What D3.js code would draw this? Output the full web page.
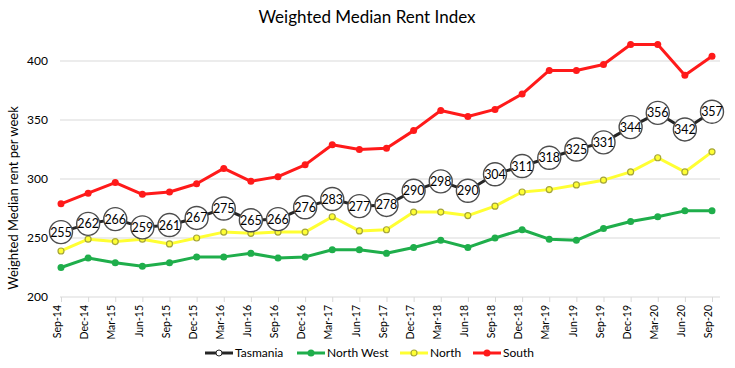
<!DOCTYPE html>
<html>
<head>
<meta charset="utf-8">
<script src="https://cdn.jsdelivr.net/npm/d3@7"></script>
<style>
  body { margin: 0; background: #fff; }
  #chart { width: 735px; height: 368px; }
  text { font-family: Lato, "Open Sans", sans-serif; fill: #000; }
</style>
</head>
<body>
<div id="chart"></div>
<script>
// quarters along the x axis
var quarters = ['Sep-14', 'Dec-14', 'Mar-15', 'Jun-15', 'Sep-15', 'Dec-15', 'Mar-16', 'Jun-16', 'Sep-16',
    'Dec-16', 'Mar-17', 'Jun-17', 'Sep-17', 'Dec-17', 'Mar-18', 'Jun-18', 'Sep-18', 'Dec-18', 'Mar-19',
    'Jun-19', 'Sep-19', 'Dec-19', 'Mar-20', 'Jun-20', 'Sep-20'];

var tasmania = [255, 262, 266, 259, 261, 267, 275, 265, 266, 276, 283, 277, 278, 290, 298, 290, 304, 311, 318, 325, 331, 344, 356, 342, 357];
var northWest = [225, 233, 229, 226, 229, 234, 234, 237, 233, 234, 240, 240, 237, 242, 248, 242, 250, 257, 249, 248, 258, 264, 268, 273, 273];
var north = [239, 249, 247, 249, 245, 250, 255, 254, 255, 255, 268, 256, 257, 272, 272, 269, 277, 289, 291, 295, 299, 306, 318, 306, 323];
var south = [279, 288, 297, 287, 289, 296, 309, 298, 302, 312, 329, 325, 326, 341, 358, 353, 359, 372, 392, 392, 397, 414, 414, 388, 404];

var yTicks = [200, 250, 300, 350, 400];

var series = [
    { name: 'Tasmania', values: tasmania, color: '#262626' },
    { name: 'North West', values: northWest, color: '#1fae4b' },
    { name: 'North', values: north, color: '#ffff33' },
    { name: 'South', values: south, color: '#ff1a1a' }
];

var width = 735, height = 368;
var svg = d3.select('#chart').append('svg')
    .attr('width', width)
    .attr('height', height);

var x = d3.scalePoint()
    .domain(quarters)
    .range([61, 712]);

var y = d3.scaleLinear()
    .domain([200, 400])
    .range([297, 61]);

// title
svg.append('text')
    .attr('x', 367)
    .attr('y', 23)
    .attr('text-anchor', 'middle')
    .style('font-size', '17px')
    .text('Weighted Median Rent Index');

// y axis title
svg.append('text')
    .attr('transform', 'translate(18,198) rotate(-90)')
    .attr('text-anchor', 'middle')
    .style('font-size', '13px')
    .text('Weighted Median rent per week');

// gridlines
svg.append('g').selectAll('line')
    .data(yTicks.slice(1))
    .enter().append('line')
    .attr('x1', 60).attr('x2', 720)
    .attr('y1', function (d) { return y(d); })
    .attr('y2', function (d) { return y(d); })
    .style('stroke', '#d9d9d9')
    .style('stroke-width', 1);

// y axis labels
var yAxis = d3.axisLeft(y).tickValues(yTicks).tickSize(0).tickPadding(12);
var gy = svg.append('g').attr('transform', 'translate(60,0)').call(yAxis);
gy.select('.domain').remove();
gy.selectAll('text').style('font-size', '12px').style('font-family', 'Lato, sans-serif');

// x axis
var xAxis = d3.axisBottom(x).tickSize(5).tickPadding(4);
var gx = svg.append('g').attr('transform', 'translate(0,297)').call(xAxis);
gx.select('.domain').attr('d', 'M60,0H720').style('stroke', '#d9d9d9');
gx.selectAll('.tick line').style('stroke', '#d9d9d9');
gx.selectAll('text')
    .style('font-size', '10.5px')
    .style('font-family', 'Lato, sans-serif')
    .attr('text-anchor', 'end')
    .attr('transform', 'rotate(-90)')
    .attr('x', -8)
    .attr('y', -4)
    .attr('dy', '0.35em');

var line = d3.line()
    .x(function (d, i) { return x(quarters[i]); })
    .y(function (d) { return y(d); });

// draw lines
series.forEach(function (s) {
    svg.append('path')
        .attr('d', line(s.values))
        .style('fill', 'none')
        .style('stroke', s.color)
        .style('stroke-width', 3)
        .style('stroke-linejoin', 'round');
});

// markers
svg.append('g').selectAll('circle')
    .data(northWest)
    .enter().append('circle')
    .attr('cx', function (d, i) { return x(quarters[i]); })
    .attr('cy', function (d) { return y(d); })
    .attr('r', 3.5)
    .style('fill', '#1fae4b');

svg.append('g').selectAll('circle')
    .data(north)
    .enter().append('circle')
    .attr('cx', function (d, i) { return x(quarters[i]); })
    .attr('cy', function (d) { return y(d); })
    .attr('r', 3)
    .style('fill', '#ffff33')
    .style('stroke', '#a5a53a')
    .style('stroke-width', 1.2);

svg.append('g').selectAll('circle')
    .data(south)
    .enter().append('circle')
    .attr('cx', function (d, i) { return x(quarters[i]); })
    .attr('cy', function (d) { return y(d); })
    .attr('r', 3.5)
    .style('fill', '#ff1a1a');

// Tasmania labels in circles
var lab = svg.append('g').selectAll('g')
    .data(tasmania)
    .enter().append('g')
    .attr('transform', function (d, i) { return 'translate(' + x(quarters[i]) + ',' + y(d) + ')'; });
lab.append('circle')
    .attr('r', 11.5)
    .style('fill', '#fff')
    .style('stroke', '#4d4d4d')
    .style('stroke-width', 1.4);
lab.append('text')
    .attr('text-anchor', 'middle')
    .attr('dy', '0.36em')
    .style('font-size', '12.5px')
    .text(function (d) { return d; });

// legend
var legendItems = [
    { s: series[0], x: 205, marker: 'open' },
    { s: series[1], x: 297, marker: 'fill' },
    { s: series[2], x: 400, marker: 'yellow' },
    { s: series[3], x: 473, marker: 'fill' }
];
var lg = svg.append('g').attr('transform', 'translate(0,353)');
legendItems.forEach(function (it) {
    var g = lg.append('g').attr('transform', 'translate(' + it.x + ',0)');
    g.append('line')
        .attr('x1', 0).attr('x2', 28)
        .style('stroke', it.s.color)
        .style('stroke-width', 3);
    if (it.marker == 'open') {
        g.append('circle').attr('cx', 14).attr('r', 3)
            .style('fill', '#fff').style('stroke', '#262626').style('stroke-width', 1);
    } else if (it.marker == 'yellow') {
        g.append('circle').attr('cx', 14).attr('r', 3)
            .style('fill', '#ffff33').style('stroke', '#a5a53a').style('stroke-width', 1.2);
    } else {
        g.append('circle').attr('cx', 14).attr('r', 3.5).style('fill', it.s.color);
    }
    g.append('text')
        .attr('x', 30)
        .attr('dy', '0.35em')
        .style('font-size', '12px')
        .text(it.s.name);
});
</script>
</body>
</html>
